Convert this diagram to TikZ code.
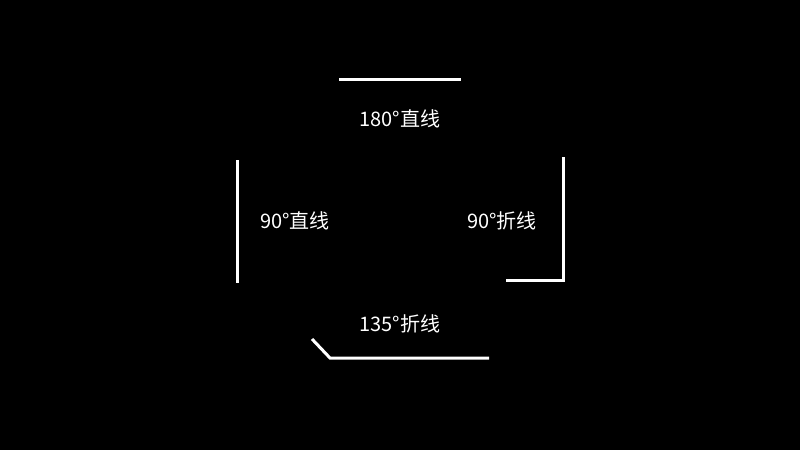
\documentclass[tikz,border=0pt]{standalone}
\usepackage{fontspec}
\newfontfamily\cjk{Noto Sans CJK SC}
\begin{document}
\begin{tikzpicture}[x=1pt,y=-1pt,
  seg/.style={draw=white,line width=3pt},
  lbl/.style={text=white,font=\cjk\fontsize{20}{23}\selectfont,inner sep=0pt,anchor=center}]
\fill[black] (0,0) rectangle (800,450);
\useasboundingbox (0,0) rectangle (800,450);
% 180 straight
\coordinate (t1) at (339,79);
\coordinate (t2) at (461,79);
\draw[seg] (t1) -- (t2);
\node[lbl] (l180) at (400,119) {180°直线};
% 90 straight
\coordinate (v1) at (237,160);
\coordinate (v2) at (237,283);
\draw[seg] (v1) -- (v2);
\node[lbl] (l90s) at (295,221) {90°直线};
% 90 polyline
\coordinate (r1) at (563,157);
\coordinate (r2) at (563,280);
\coordinate (r3) at (506,280);
\draw[seg] (r1) -- (r2) -- (r3);
\node[lbl] (l90p) at (502,221) {90°折线};
% 135 polyline
\coordinate (b1) at (312,339);
\coordinate (b2) at (330,358);
\coordinate (b3) at (489,358);
\draw[seg] (b1) -- (b2) -- (b3);
\node[lbl] (l135) at (400,324) {135°折线};
\end{tikzpicture}
\end{document}
